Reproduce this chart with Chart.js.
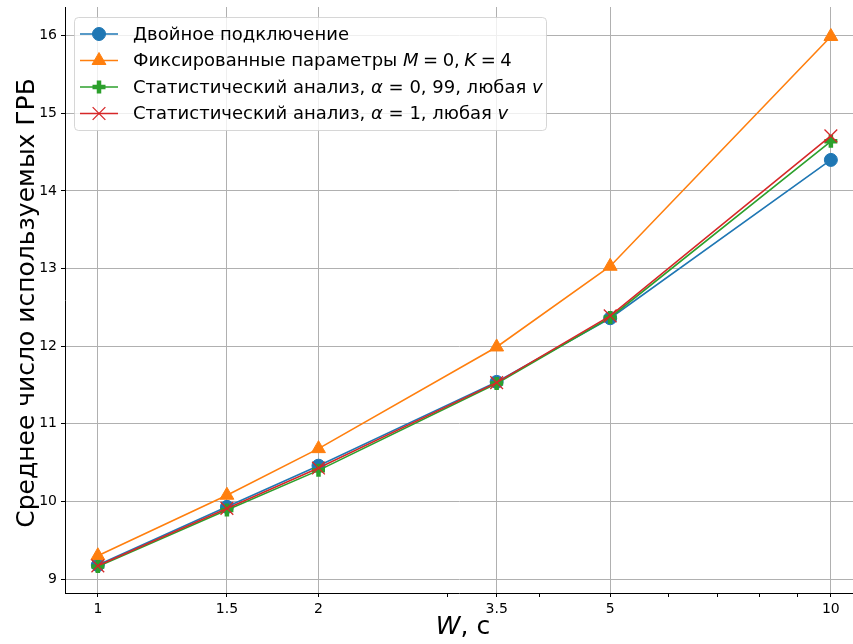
<!DOCTYPE html>
<html><head><meta charset="utf-8">
<script src="https://cdn.jsdelivr.net/npm/chart.js@4/dist/chart.umd.min.js"></script>
<style>html,body{margin:0;padding:0;background:#fff;} canvas{display:block;}</style>
</head><body>
<canvas id="c" width="853" height="644"></canvas>
<script>
// ---- data ----
const categories = [1, 1.5, 2, 3.5, 5, 10];
const seriesDual = [9.18, 9.93, 10.46, 11.54, 12.36, 14.40];
const seriesFixed = [9.30, 10.08, 10.68, 11.99, 13.03, 15.99];
const seriesStat099 = [9.16, 9.89, 10.40, 11.52, 12.37, 14.64];
const seriesStat1 = [9.17, 9.91, 10.43, 11.53, 12.39, 14.71];
const xMajorTicks = [1, 1.5, 2, 3.5, 5, 10];
const xMinorTicks = [3, 4, 6, 7, 8, 9];
const yTickValues = [9, 10, 11, 12, 13, 14, 15, 16];
const legendLabels = [
  [["Двойное подключение", false]],
  [["Фиксированные параметры ", false], ["M", true], ["\u2005=\u20050,\u2005", false], ["K", true], ["\u2005=\u20054", false]],
  [["Статистический анализ, ", false], ["α", true], [" = 0, 99, любая ", false], ["v", true]],
  [["Статистический анализ, ", false], ["α", true], [" = 1, любая ", false], ["v", true]]
];
const yTitle = "Среднее число используемых ГРБ";
const xTitle = [["W", true], [", с", false]];

const FONT = '"DejaVu Sans", "Liberation Sans", sans-serif';

function pts(vals) { return categories.map((c, i) => ({ x: c, y: vals[i] })); }

const datasets = [
  { data: pts(seriesDual), borderColor: '#1f77b4', backgroundColor: '#1f77b4',
    pointStyle: 'circle', pointRadius: 6.5, pointBackgroundColor: '#1f77b4', pointBorderColor: '#1f77b4', pointBorderWidth: 1, order: 4 },
  { data: pts(seriesFixed), borderColor: '#ff7f0e', backgroundColor: '#ff7f0e',
    pointStyle: 'triangle', pointRadius: 8, pointBackgroundColor: '#ff7f0e', pointBorderColor: '#ff7f0e', pointBorderWidth: 1, order: 3 },
  { data: pts(seriesStat099), borderColor: '#2ca02c', backgroundColor: '#2ca02c',
    pointStyle: 'cross', pointRadius: 6.5, pointBackgroundColor: '#2ca02c', pointBorderColor: '#2ca02c', pointBorderWidth: 4.5, order: 2 },
  { data: pts(seriesStat1), borderColor: '#d62728', backgroundColor: '#d62728',
    pointStyle: 'crossRot', pointRadius: 9, pointBackgroundColor: '#d62728', pointBorderColor: '#d62728', pointBorderWidth: 1.3, order: 1 }
];
datasets.forEach(d => { d.borderWidth = 1.6; d.fill = false; d.tension = 0; d.pointHoverRadius = d.pointRadius; d.clip = false; });

function drawMarker(ctx, ds, x, y) {
  ctx.save();
  ctx.fillStyle = ds.pointBackgroundColor;
  ctx.strokeStyle = ds.pointBorderColor;
  ctx.lineWidth = ds.pointBorderWidth;
  Chart.helpers.drawPoint(ctx, { pointStyle: ds.pointStyle, rotation: 0, radius: ds.pointRadius, borderWidth: ds.pointBorderWidth }, x, y);
  ctx.restore();
}

function drawSegments(ctx, segs, x, y, size) {
  segs.forEach(([t, it]) => {
    ctx.font = (it ? 'italic ' : '') + size + 'px ' + FONT;
    ctx.fillText(t, x, y);
    x += ctx.measureText(t).width;
  });
}
function segWidth(ctx, segs, size) {
  let w = 0;
  segs.forEach(([t, it]) => { ctx.font = (it ? 'italic ' : '') + size + 'px ' + FONT; w += ctx.measureText(t).width; });
  return w;
}

const decorPlugin = {
  id: 'decor',
  afterDraw(chart) {
    const ctx = chart.ctx;
    const ca = chart.chartArea;
    ctx.save();
    // axis titles
    ctx.fillStyle = '#000';
    ctx.textBaseline = 'middle';
    ctx.save();
    ctx.translate(27, (ca.top + ca.bottom) / 2 + 3);
    ctx.rotate(-Math.PI / 2);
    ctx.textAlign = 'center';
    ctx.font = '25px ' + FONT;
    ctx.fillText(yTitle, 0, 0);
    ctx.restore();
    ctx.textAlign = 'left';
    const xw = segWidth(ctx, xTitle, 25);
    drawSegments(ctx, xTitle, (ca.left + ca.right) / 2 - xw / 2 + 4, 627, 25);

    // legend
    const bx = 74.5, by = 17.5, bw = 472, bh = 113;
    ctx.beginPath();
    ctx.roundRect(bx, by, bw, bh, 4);
    ctx.fillStyle = 'rgba(255,255,255,0.8)';
    ctx.fill();
    ctx.strokeStyle = 'rgba(204,204,204,0.8)';
    ctx.lineWidth = 1;
    ctx.stroke();
    chart.data.datasets.forEach((ds, i) => {
      const cy = 34 + i * 26.5;
      ctx.beginPath();
      ctx.strokeStyle = ds.borderColor;
      ctx.lineWidth = ds.borderWidth;
      ctx.moveTo(80, cy); ctx.lineTo(118, cy);
      ctx.stroke();
      drawMarker(ctx, ds, 99, cy);
      ctx.fillStyle = '#000';
      ctx.textAlign = 'left';
      ctx.textBaseline = 'middle';
      drawSegments(ctx, legendLabels[i], 133, cy + 1, 18);
    });
    ctx.restore();
  }
};

new Chart(document.getElementById('c'), {
  type: 'line',
  data: { datasets },
  options: {
    responsive: false,
    animation: false,
    devicePixelRatio: 1,
    layout: { autoPadding: false, padding: { top: 7, right: 0, left: 0, bottom: 0 } },
    plugins: { legend: { display: false }, tooltip: { enabled: false }, title: { display: false } },
    scales: {
      x: {
        type: 'logarithmic',
        min: 0.902, max: 10.72,
        afterBuildTicks(scale) {
          scale.ticks = [...xMajorTicks, ...xMinorTicks].sort((a, b) => a - b)
            .map(v => ({ value: v, major: xMajorTicks.includes(v) }));
        },
        afterFit(scale) { scale.height = 51; scale.paddingLeft = 0; scale.paddingRight = 0; },
        ticks: {
          autoSkip: false, maxRotation: 0, minRotation: 0, padding: 4,
          color: '#000', font: { family: FONT, size: 14 },
          callback: (v) => xMajorTicks.includes(v) ? String(v) : ''
        },
        grid: {
          color: (c) => (c.tick && xMajorTicks.includes(c.tick.value)) ? '#b0b0b0' : 'rgba(0,0,0,0)',
          lineWidth: 1, drawTicks: true, tickLength: 4, tickColor: '#000', tickWidth: 1
        },
        border: { display: true, color: '#000', width: 1 }
      },
      y: {
        type: 'linear',
        min: 8.82, max: 16.37,
        afterBuildTicks(scale) { scale.ticks = yTickValues.map(v => ({ value: v })); },
        afterFit(scale) { scale.width = 65; scale.paddingTop = 0; scale.paddingBottom = 0; },
        ticks: { color: '#000', font: { family: FONT, size: 14 }, padding: 4, callback: (v) => String(v) },
        grid: { color: '#b0b0b0', lineWidth: 1, drawTicks: true, tickLength: 4, tickColor: '#000', tickWidth: 1 },
        border: { display: true, color: '#000', width: 1 }
      }
    }
  },
  plugins: [decorPlugin]
});
</script>
</body></html>
